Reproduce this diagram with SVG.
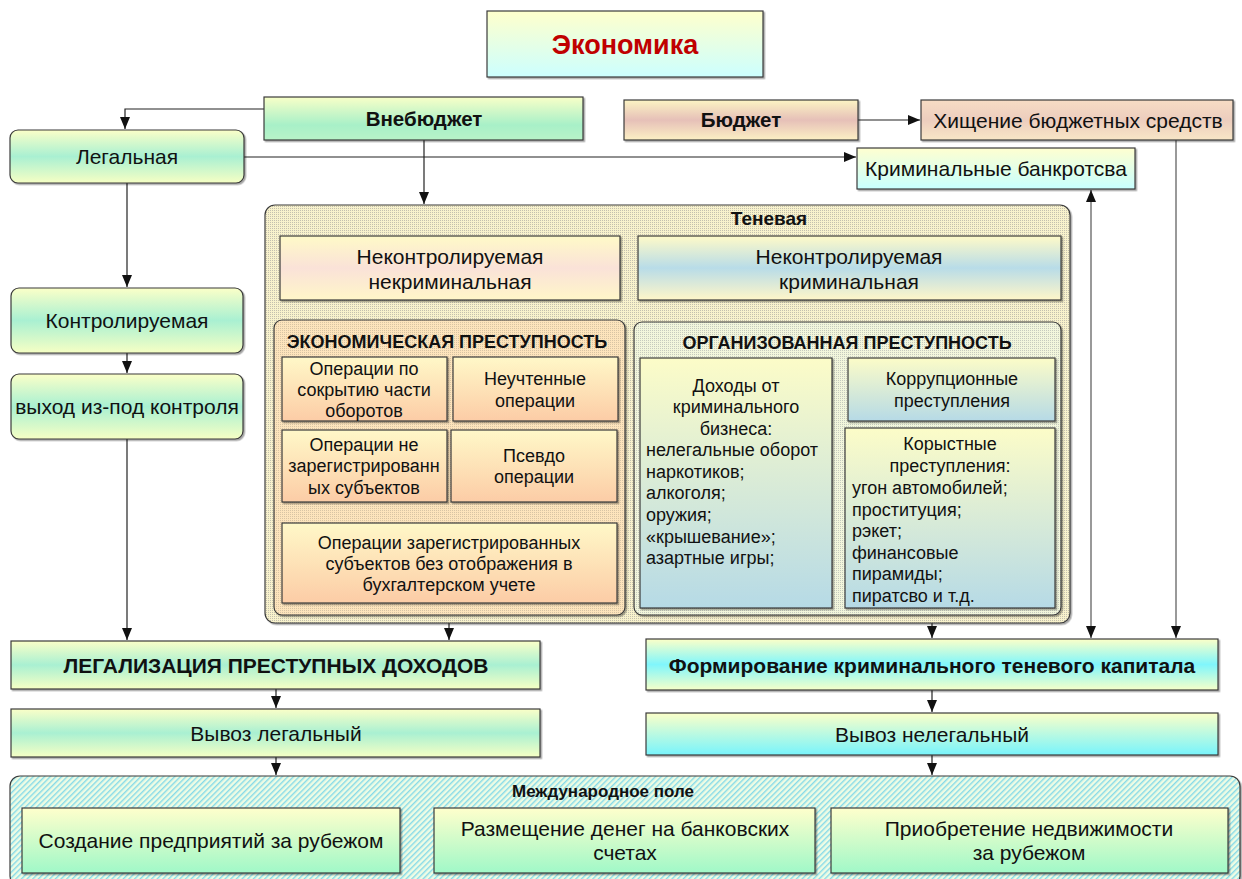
<svg xmlns="http://www.w3.org/2000/svg" width="1242" height="879" viewBox="0 0 1242 879">
<defs>
<style>
text{font-family:"Liberation Sans",Arial,sans-serif;fill:#111;text-anchor:middle}
.t21{font-size:21px}
.t18{font-size:18px}
.b20{font-size:20.5px;font-weight:bold}
.b18{font-size:18px;font-weight:bold}
.l{text-anchor:start}
.box{stroke:#3a3a3a;stroke-width:1.2;filter:url(#sh)}
.c{fill:none;stroke:#222;stroke-width:1.2}
.cg{fill:none;stroke:#555;stroke-width:1.2}
</style>
<filter id="sh" x="-5%" y="-5%" width="110%" height="120%">
<feDropShadow dx="1.5" dy="1.5" stdDeviation="0.7" flood-color="#000" flood-opacity="0.35"/>
</filter>
<marker id="ar" markerUnits="userSpaceOnUse" markerWidth="12" markerHeight="10" refX="12" refY="5" orient="auto-start-reverse">
<path d="M0,0 L12,5 L0,10 z" fill="#111"/>
</marker>
<linearGradient id="gEco" x1="0" y1="0" x2="0" y2="1"><stop offset="0" stop-color="#ffffcc"/><stop offset="1" stop-color="#ccffff"/></linearGradient>
<linearGradient id="gYGY" x1="0" y1="0" x2="0" y2="1"><stop offset="0" stop-color="#fbffc8"/><stop offset="0.5" stop-color="#a9f0d2"/><stop offset="1" stop-color="#f6ffc4"/></linearGradient>
<linearGradient id="gYG" x1="0" y1="0" x2="0" y2="1"><stop offset="0" stop-color="#f8ffc8"/><stop offset="0.65" stop-color="#a8f0c8"/><stop offset="1" stop-color="#b8f4c8"/></linearGradient>
<linearGradient id="gYPY" x1="0" y1="0" x2="0" y2="1"><stop offset="0" stop-color="#fcf4c4"/><stop offset="0.5" stop-color="#e6c0b8"/><stop offset="1" stop-color="#fcf0c4"/></linearGradient>
<linearGradient id="gHis" x1="0" y1="0" x2="0" y2="1"><stop offset="0" stop-color="#f6dcc4"/><stop offset="0.5" stop-color="#eccdbe"/><stop offset="1" stop-color="#f8e6c6"/></linearGradient>
<linearGradient id="gYC" x1="0" y1="0" x2="0" y2="1"><stop offset="0" stop-color="#ffffd0"/><stop offset="1" stop-color="#c8ffff"/></linearGradient>
<linearGradient id="gYpkY" x1="0" y1="0" x2="0" y2="1"><stop offset="0" stop-color="#fffac8"/><stop offset="0.5" stop-color="#fae2d8"/><stop offset="1" stop-color="#fff6c8"/></linearGradient>
<linearGradient id="gYBY" x1="0" y1="0" x2="0" y2="1"><stop offset="0" stop-color="#fffac8"/><stop offset="0.5" stop-color="#b8dce8"/><stop offset="1" stop-color="#fff6c8"/></linearGradient>
<linearGradient id="gYO" x1="0" y1="0" x2="0" y2="1"><stop offset="0" stop-color="#fff8c8"/><stop offset="1" stop-color="#fccca6"/></linearGradient>
<linearGradient id="gYB" x1="0" y1="0" x2="0" y2="1"><stop offset="0" stop-color="#fcfcc8"/><stop offset="1" stop-color="#b6dae6"/></linearGradient>
<linearGradient id="gYCY" x1="0" y1="0" x2="0" y2="1"><stop offset="0" stop-color="#fcffc8"/><stop offset="0.5" stop-color="#80f6fc"/><stop offset="1" stop-color="#f6ffc8"/></linearGradient>
<linearGradient id="gYCc" x1="0" y1="0" x2="0" y2="1"><stop offset="0" stop-color="#fcffc8"/><stop offset="1" stop-color="#78f4fc"/></linearGradient>
<linearGradient id="gYM" x1="0" y1="0" x2="0" y2="1"><stop offset="0" stop-color="#ffffcc"/><stop offset="1" stop-color="#a0f8c8"/></linearGradient>
<pattern id="pTen" width="2" height="2" patternUnits="userSpaceOnUse"><rect width="2" height="2" fill="#f8f2cc"/><rect width="1" height="1" fill="#c4c0ae"/></pattern>
<pattern id="pEcon" width="2" height="2" patternUnits="userSpaceOnUse"><rect width="2" height="2" fill="#fde4bc"/><rect width="1" height="1" fill="#d8c4a4"/></pattern>
<pattern id="pOrg" width="2" height="2" patternUnits="userSpaceOnUse"><rect width="2" height="2" fill="#f2f6dc"/><rect width="1" height="1" fill="#c6cabe"/></pattern>
<pattern id="pInt" width="4" height="4" patternUnits="userSpaceOnUse" patternTransform="rotate(45)"><rect width="4" height="4" fill="#eefce4"/><rect width="1.4" height="4" fill="#86dae8"/></pattern>
</defs>

<rect width="1242" height="879" fill="#ffffff"/>

<g id="connectors">
<path class="c" d="M264,109 H125 V129" marker-end="url(#ar)"/>
<path class="c" d="M244,157 H856" marker-end="url(#ar)"/>
<path class="c" d="M424,140 V204" marker-end="url(#ar)"/>
<path class="c" d="M858,120 H920" marker-end="url(#ar)"/>
<path class="c" d="M127,183 V287" marker-end="url(#ar)"/>
<path class="c" d="M127,353 V373" marker-end="url(#ar)"/>
<path class="c" d="M127,439 V640" marker-end="url(#ar)"/>
<path class="cg" d="M1176,140 V638" marker-end="url(#ar)"/>
<path class="cg" d="M1091,190 V638" marker-start="url(#ar)" marker-end="url(#ar)"/>
<path class="c" d="M449,603 V640" marker-end="url(#ar)"/>
<path class="c" d="M932,615 V638" marker-end="url(#ar)"/>
<path class="c" d="M276,689 V708" marker-end="url(#ar)"/>
<path class="c" d="M276,757 V775" marker-end="url(#ar)"/>
<path class="c" d="M932,690 V712" marker-end="url(#ar)"/>
<path class="c" d="M932,755 V775" marker-end="url(#ar)"/>
</g>

<g id="ekonomika">
<rect class="box" x="487" y="11" width="276" height="66" fill="url(#gEco)"/>
<text x="625" y="53.5" style="font-size:27px;font-weight:bold;fill:#c00000">Экономика</text>
</g>
<g id="vnebudzhet">
<rect class="box" x="264" y="97" width="319" height="43" fill="url(#gYG)"/>
<text class="b20" x="424" y="125.5">Внебюджет</text>
</g>
<g id="budzhet">
<rect class="box" x="624" y="100" width="234" height="40" fill="url(#gYPY)"/>
<text class="b20" x="741" y="127">Бюджет</text>
</g>
<g id="hishchenie">
<rect class="box" x="921" y="100" width="312" height="40" fill="url(#gHis)"/>
<text class="t21" x="1078" y="127.5">Хищение бюджетных средств</text>
</g>
<g id="bankrotstva">
<rect class="box" x="857" y="148" width="278" height="41" fill="url(#gYC)"/>
<text class="t21" x="996" y="175.5">Криминальные банкротсва</text>
</g>
<g id="legalnaya">
<rect class="box" x="10" y="130" width="234" height="53" rx="8" fill="url(#gYGY)"/>
<text class="t21" x="127" y="163.5">Легальная</text>
</g>
<g id="kontroliruemaya">
<rect class="box" x="11" y="288" width="232" height="65" rx="8" fill="url(#gYGY)"/>
<text class="t21" x="127" y="327.5">Контролируемая</text>
</g>
<g id="vyhod">
<rect class="box" x="11" y="374" width="232" height="65" rx="8" fill="url(#gYGY)"/>
<text class="t21" x="127" y="413.5">выход из-под контроля</text>
</g>

<g id="tenevaya">
<rect class="box" x="265" y="205" width="805" height="418" rx="10" fill="url(#pTen)"/>
<text x="769" y="225" style="font-size:19px;font-weight:bold">Теневая</text>
</g>
<g id="nekontr-nekrim">
<rect class="box" x="280" y="236" width="340" height="64" fill="url(#gYpkY)"/>
<text class="t21" x="450" y="263.5">Неконтролируемая</text>
<text class="t21" x="450" y="288.5">некриминальная</text>
</g>
<g id="nekontr-krim">
<rect class="box" x="638" y="236" width="423" height="64" fill="url(#gYBY)"/>
<text class="t21" x="849" y="263.5">Неконтролируемая</text>
<text class="t21" x="849" y="288.5">криминальная</text>
</g>

<g id="econ-prest">
<rect class="box" x="274" y="320" width="351" height="295" rx="8" fill="url(#pEcon)"/>
<text class="b18" x="447" y="347.5">ЭКОНОМИЧЕСКАЯ ПРЕСТУПНОСТЬ</text>
</g>
<g id="op-sokrytie">
<rect class="box" x="282" y="357" width="165" height="64" fill="url(#gYO)"/>
<text class="t18" x="364" y="374.5">Операции по</text>
<text class="t18" x="364" y="395.5">сокрытию части</text>
<text class="t18" x="364" y="416.5">оборотов</text>
</g>
<g id="op-neuchtennye">
<rect class="box" x="453" y="357" width="165" height="64" fill="url(#gYO)"/>
<text class="t18" x="535" y="384.5">Неучтенные</text>
<text class="t18" x="535" y="406.5">операции</text>
</g>
<g id="op-nezareg">
<rect class="box" x="282" y="430" width="165" height="72" fill="url(#gYO)"/>
<text class="t18" x="364" y="450.5">Операции не</text>
<text class="t18" x="364" y="471.5">зарегистрированн</text>
<text class="t18" x="364" y="493.5">ых субъектов</text>
</g>
<g id="op-psevdo">
<rect class="box" x="451" y="430" width="166" height="72" fill="url(#gYO)"/>
<text class="t18" x="534" y="461.5">Псевдо</text>
<text class="t18" x="534" y="482.5">операции</text>
</g>
<g id="op-zareg">
<rect class="box" x="282" y="523" width="335" height="80" fill="url(#gYO)"/>
<text class="t18" x="449" y="548.5">Операции зарегистрированных</text>
<text class="t18" x="449" y="569.5">субъектов без отображения в</text>
<text class="t18" x="449" y="590.5">бухгалтерском учете</text>
</g>

<g id="org-prest">
<rect class="box" x="634" y="322" width="427" height="293" rx="8" fill="url(#pOrg)"/>
<text class="b18" x="847" y="348.5">ОРГАНИЗОВАННАЯ ПРЕСТУПНОСТЬ</text>
</g>
<g id="dohody">
<rect class="box" x="640" y="358" width="192" height="250" fill="url(#gYB)"/>
<text class="t18" x="736" y="391.5">Доходы от</text>
<text class="t18" x="736" y="412.5">криминального</text>
<text class="t18" x="736" y="434.5">бизнеса:</text>
<text class="t18 l" x="646" y="455.5">нелегальные оборот</text>
<text class="t18 l" x="646" y="477.5">наркотиков;</text>
<text class="t18 l" x="646" y="498.5">алкоголя;</text>
<text class="t18 l" x="646" y="520.5">оружия;</text>
<text class="t18 l" x="646" y="542.5">«крышевание»;</text>
<text class="t18 l" x="646" y="563.5">азартные игры;</text>
</g>
<g id="korrupcionnye">
<rect class="box" x="848" y="358" width="207" height="63" fill="url(#gYB)"/>
<text class="t18" x="952" y="384.5">Коррупционные</text>
<text class="t18" x="952" y="406.5">преступления</text>
</g>
<g id="korystnye">
<rect class="box" x="845" y="428" width="210" height="180" fill="url(#gYB)"/>
<text class="t18" x="950" y="449.5">Корыстные</text>
<text class="t18" x="950" y="471.5">преступления:</text>
<text class="t18 l" x="852" y="493.5">угон автомобилей;</text>
<text class="t18 l" x="852" y="515.5">проституция;</text>
<text class="t18 l" x="852" y="536.5">рэкет;</text>
<text class="t18 l" x="852" y="558.5">финансовые</text>
<text class="t18 l" x="852" y="579.5">пирамиды;</text>
<text class="t18 l" x="852" y="601.5">пиратсво и т.д.</text>
</g>

<g id="legalizaciya">
<rect class="box" x="11" y="641" width="529" height="48" fill="url(#gYGY)"/>
<text x="276" y="672.5" style="font-size:21px;font-weight:bold">ЛЕГАЛИЗАЦИЯ ПРЕСТУПНЫХ ДОХОДОВ</text>
</g>
<g id="formirovanie">
<rect class="box" x="646" y="639" width="572" height="51" fill="url(#gYCY)"/>
<text x="932" y="672.5" style="font-size:21px;font-weight:bold">Формирование криминального теневого капитала</text>
</g>
<g id="vyvoz-leg">
<rect class="box" x="11" y="709" width="529" height="48" fill="url(#gYGY)"/>
<text class="t21" x="276" y="740.5">Вывоз легальный</text>
</g>
<g id="vyvoz-neleg">
<rect class="box" x="646" y="713" width="572" height="42" fill="url(#gYCc)"/>
<text class="t21" x="932" y="741.5">Вывоз нелегальный</text>
</g>

<g id="mezhdunarodnoe">
<rect class="box" x="10" y="776" width="1230" height="110" rx="10" fill="url(#pInt)"/>
<text x="603" y="797" style="font-size:17px;font-weight:bold">Международное поле</text>
</g>
<g id="sozdanie">
<rect class="box" x="22" y="808" width="378" height="65" fill="url(#gYM)"/>
<text class="t21" x="211" y="847.5">Создание предприятий за рубежом</text>
</g>
<g id="razmeshchenie">
<rect class="box" x="434" y="808" width="381" height="65" fill="url(#gYM)"/>
<text class="t21" x="625" y="835.5">Размещение денег на банковских</text>
<text class="t21" x="625" y="859.5">счетах</text>
</g>
<g id="priobretenie">
<rect class="box" x="831" y="808" width="397" height="65" fill="url(#gYM)"/>
<text class="t21" x="1029" y="835.5">Приобретение недвижимости</text>
<text class="t21" x="1029" y="859.5">за рубежом</text>
</g>
</svg>
